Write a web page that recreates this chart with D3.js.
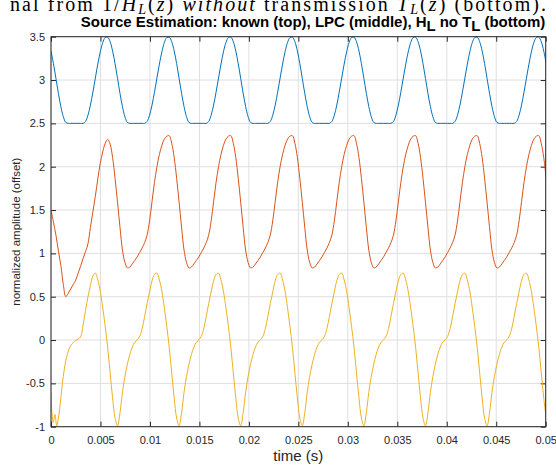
<!DOCTYPE html>
<html><head><meta charset="utf-8">
<script src="https://cdn.jsdelivr.net/npm/d3@7"></script>
<style>
body{margin:0;background:#fff}
svg{display:block}
.sans{font-family:"Liberation Sans",Arial,Helvetica,sans-serif}
</style>
</head><body>
<svg id="c" width="556" height="465"></svg>
<script>
// ---------- data ----------
const sampleStep = 0.000249; // s
const xTicks = [0,0.005,0.01,0.015,0.02,0.025,0.03,0.035,0.04,0.045,0.05];
const xTickLabels = ["0","0.005","0.01","0.015","0.02","0.025","0.03","0.035","0.04","0.045","0.05"];
const yTicks = [-1,-0.5,0,0.5,1,1.5,2,2.5,3,3.5];
const yTickLabels = ["-1","-0.5","0","0.5","1","1.5","2","2.5","3","3.5"];

// known source (top), offset +3
const knownSource = [
3.336,3.189,3.019,2.847,2.694,2.577,2.511,2.5,2.5,2.5,2.5,2.5,2.5,2.5,2.522,2.594,2.711,2.860,3.023,3.184,3.325,3.432,3.490,3.495,3.442,
3.336,3.189,3.019,2.847,2.694,2.577,2.511,2.5,2.5,2.5,2.5,2.5,2.5,2.5,2.522,2.594,2.711,2.860,3.023,3.184,3.325,3.432,3.490,3.495,3.442,
3.336,3.189,3.019,2.847,2.694,2.577,2.511,2.5,2.5,2.5,2.5,2.5,2.5,2.5,2.522,2.594,2.711,2.860,3.023,3.184,3.325,3.432,3.490,3.495,3.442,
3.336,3.189,3.019,2.847,2.694,2.577,2.511,2.5,2.5,2.5,2.5,2.5,2.5,2.5,2.522,2.594,2.711,2.860,3.023,3.184,3.325,3.432,3.490,3.495,3.442,
3.336,3.189,3.019,2.847,2.694,2.577,2.511,2.5,2.5,2.5,2.5,2.5,2.5,2.5,2.522,2.594,2.711,2.860,3.023,3.184,3.325,3.432,3.490,3.495,3.442,
3.336,3.189,3.019,2.847,2.694,2.577,2.511,2.5,2.5,2.5,2.5,2.5,2.5,2.5,2.522,2.594,2.711,2.860,3.023,3.184,3.325,3.432,3.490,3.495,3.442,
3.336,3.189,3.019,2.847,2.694,2.577,2.511,2.5,2.5,2.5,2.5,2.5,2.5,2.5,2.522,2.594,2.711,2.860,3.023,3.184,3.325,3.432,3.490,3.495,3.442,
3.336,3.189,3.019,2.847,2.694,2.577,2.511,2.5,2.5,2.5,2.5,2.5,2.5,2.5,2.522,2.594,2.711,2.860,3.023,3.184,3.325,3.432,3.490,3.495,3.442,
3.336,3.189];

// LPC estimate (middle), offset +1.5
const lpcSource = [
1.50,1.36,1.21,1.03,0.86,0.64,0.50,0.54,0.59,0.64,0.69,0.77,0.85,0.94,1.02,1.11,1.30,1.48,1.66,1.86,2.04,2.17,2.27,2.315,2.26,
2.107,1.866,1.59,1.302,1.038,0.896,0.832,0.842,0.878,0.918,0.96,1.01,1.062,1.124,1.21,1.374,1.596,1.818,2.0,2.142,2.246,2.318,2.352,2.358,2.27,
2.107,1.866,1.59,1.302,1.038,0.896,0.832,0.842,0.878,0.918,0.96,1.01,1.062,1.124,1.21,1.374,1.596,1.818,2.0,2.142,2.246,2.318,2.352,2.358,2.27,
2.107,1.866,1.59,1.302,1.038,0.896,0.832,0.842,0.878,0.918,0.96,1.01,1.062,1.124,1.21,1.374,1.596,1.818,2.0,2.142,2.246,2.318,2.352,2.358,2.27,
2.107,1.866,1.59,1.302,1.038,0.896,0.832,0.842,0.878,0.918,0.96,1.01,1.062,1.124,1.21,1.374,1.596,1.818,2.0,2.142,2.246,2.318,2.352,2.358,2.27,
2.107,1.866,1.59,1.302,1.038,0.896,0.832,0.842,0.878,0.918,0.96,1.01,1.062,1.124,1.21,1.374,1.596,1.818,2.0,2.142,2.246,2.318,2.352,2.358,2.27,
2.107,1.866,1.59,1.302,1.038,0.896,0.832,0.842,0.878,0.918,0.96,1.01,1.062,1.124,1.21,1.374,1.596,1.818,2.0,2.142,2.246,2.318,2.352,2.358,2.27,
2.107,1.866,1.59,1.302,1.038,0.896,0.832,0.842,0.878,0.918,0.96,1.01,1.062,1.124,1.21,1.374,1.596,1.818,2.0,2.142,2.246,2.318,2.352,2.358,2.27,
2.107,1.866];

// H_L without T_L (bottom): onset points, then samples from index 9 on
const hlOnsetTime = [0,0.00010,0.00022,0.00040,0.00058,0.00075,0.00092,0.00124,0.00159,0.00200];
const hlOnsetValue = [-0.60,-0.85,-0.95,-0.86,-0.99,-0.90,-0.75,-0.42,-0.19,-0.06];
const hlFirstIndex = 9;
const hlSource = [
-0.03,-0.005,0.01,0.035,0.17,0.34,0.50,0.63,0.74,0.772,0.693,0.562,0.373,0.156,-0.084,-0.379,
-0.666,-0.90,-0.99,-0.84,-0.603,-0.422,-0.279,-0.166,-0.081,-0.026,0.003,0.042,0.132,0.271,0.419,0.556,0.683,0.756,0.772,0.693,0.562,0.373,0.156,-0.084,-0.379,
-0.666,-0.90,-0.99,-0.84,-0.603,-0.422,-0.279,-0.166,-0.081,-0.026,0.003,0.042,0.132,0.271,0.419,0.556,0.683,0.756,0.772,0.693,0.562,0.373,0.156,-0.084,-0.379,
-0.666,-0.90,-0.99,-0.84,-0.603,-0.422,-0.279,-0.166,-0.081,-0.026,0.003,0.042,0.132,0.271,0.419,0.556,0.683,0.756,0.772,0.693,0.562,0.373,0.156,-0.084,-0.379,
-0.666,-0.90,-0.99,-0.84,-0.603,-0.422,-0.279,-0.166,-0.081,-0.026,0.003,0.042,0.132,0.271,0.419,0.556,0.683,0.756,0.772,0.693,0.562,0.373,0.156,-0.084,-0.379,
-0.666,-0.90,-0.99,-0.84,-0.603,-0.422,-0.279,-0.166,-0.081,-0.026,0.003,0.042,0.132,0.271,0.419,0.556,0.683,0.756,0.772,0.693,0.562,0.373,0.156,-0.084,-0.379,
-0.666,-0.90,-0.99,-0.84,-0.603,-0.422,-0.279,-0.166,-0.081,-0.026,0.003,0.042,0.132,0.271,0.419,0.556,0.683,0.756,0.772,0.693,0.562,0.373,0.156,-0.084,-0.379,
-0.666,-0.90,-0.99,-0.84,-0.603,-0.422,-0.279,-0.166,-0.081,-0.026,0.003,0.042,0.132,0.271,0.419,0.556,0.683,0.756,0.772,0.693,0.562,0.373,0.156,-0.084,-0.379,
-0.666,-0.90];

const seriesColors = ["#0072BD","#D95319","#EDB120"];

// ---------- chart ----------
const svg = d3.select("#c");
const L = 51, R = 545.7, T = 36.7, B = 426.7;
const x = d3.scaleLinear().domain([0,0.05]).range([L,R]);
const y = d3.scaleLinear().domain([-1,3.5]).range([B,T]);
const axisColor = "#262626";

// cut-off caption of the surrounding document
const cap = svg.append("text")
  .attr("x",10).attr("y",10.5)
  .attr("textLength",536).attr("lengthAdjust","spacing")
  .style("font-family","'Liberation Serif','DejaVu Serif',serif")
  .style("font-size","20px").attr("fill","#000");
cap.append("tspan").text("nal from 1/");
cap.append("tspan").style("font-style","italic").text("H");
cap.append("tspan").style("font-style","italic").style("font-size","14px").attr("dy",3).text("L");
cap.append("tspan").attr("dy",-3).text("(");
cap.append("tspan").style("font-style","italic").text("z");
cap.append("tspan").text(") ");
cap.append("tspan").style("font-style","italic").text("without");
cap.append("tspan").text(" transmission ");
cap.append("tspan").style("font-style","italic").text("T");
cap.append("tspan").style("font-style","italic").style("font-size","14px").attr("dy",3).text("L");
cap.append("tspan").attr("dy",-3).text("(");
cap.append("tspan").style("font-style","italic").text("z");
cap.append("tspan").text(") (bottom).");

// plot background
svg.append("rect").attr("x",L).attr("y",T).attr("width",R-L).attr("height",B-T).attr("fill","#fff");

// grid
const grid = svg.append("g").attr("stroke","#dfdfdf").attr("stroke-width",1);
grid.selectAll(".gx").data(xTicks).join("line")
  .attr("x1",d=>x(d)).attr("x2",d=>x(d)).attr("y1",T).attr("y2",B);
grid.selectAll(".gy").data(yTicks).join("line")
  .attr("y1",d=>y(d)).attr("y2",d=>y(d)).attr("x1",L).attr("x2",R);

// axes
function styleAxis(g){
  g.select(".domain").remove();
  g.selectAll(".tick line").attr("stroke",axisColor);
  g.selectAll(".tick text").attr("fill",axisColor).style("font-size","11px")
   .attr("class","sans");
}
const xLab = d3.scaleOrdinal().domain(xTicks).range(xTickLabels);
const yLab = d3.scaleOrdinal().domain(yTicks).range(yTickLabels);
svg.append("g").attr("transform",`translate(0,${B})`)
  .call(d3.axisBottom(x).tickValues(xTicks).tickFormat(d=>xLab(d)).tickSizeInner(-5).tickSizeOuter(0).tickPadding(9.5))
  .call(styleAxis);
svg.append("g").attr("transform",`translate(0,${T})`)
  .call(d3.axisTop(x).tickValues(xTicks).tickFormat("").tickSizeInner(-5).tickSizeOuter(0))
  .call(styleAxis);
svg.append("g").attr("transform",`translate(${L},0)`)
  .call(d3.axisLeft(y).tickValues(yTicks).tickFormat(d=>yLab(d)).tickSizeInner(-5).tickSizeOuter(0).tickPadding(6))
  .call(styleAxis);
svg.append("g").attr("transform",`translate(${R},0)`)
  .call(d3.axisRight(y).tickValues(yTicks).tickFormat("").tickSizeInner(-5).tickSizeOuter(0))
  .call(styleAxis);

// lines
svg.append("defs").append("clipPath").attr("id","clip")
  .append("rect").attr("x",L).attr("y",T-1).attr("width",R-L).attr("height",B-T+2);

const line = d3.line().x(d=>x(d[0])).y(d=>y(d[1])).curve(d3.curveCatmullRom.alpha(0.5));
const blueData = knownSource.map((v,i)=>[i*sampleStep,v]);
const redData = lpcSource.map((v,i)=>[i*sampleStep,v]);
const yellowData = hlOnsetTime.map((t,i)=>[t,hlOnsetValue[i]])
  .concat(hlSource.map((v,i)=>[(i+hlFirstIndex)*sampleStep,v]));

const plot = svg.append("g").attr("clip-path","url(#clip)").attr("fill","none").attr("stroke-width",1);
[blueData, redData, yellowData].forEach((d,k)=>{
  plot.append("path").datum(d).attr("d",line).attr("stroke",seriesColors[k]);
});

// box
svg.append("rect").attr("x",L).attr("y",T).attr("width",R-L).attr("height",B-T)
  .attr("fill","none").attr("stroke",axisColor).attr("stroke-width",1);

// labels
svg.append("text").attr("class","sans").attr("x",(L+R)/2).attr("y",461)
  .attr("text-anchor","middle").style("font-size","15px").attr("fill",axisColor).text("time (s)");
svg.append("text").attr("class","sans")
  .attr("transform",`translate(20,${(T+B)/2}) rotate(-90)`)
  .attr("text-anchor","middle").style("font-size","11.5px").attr("fill",axisColor)
  .text("normalized amplitude (offset)");

// title
const title = svg.append("text").attr("class","sans").attr("x",313).attr("y",27)
  .attr("text-anchor","middle").style("font-size","15px").style("font-weight","bold").attr("fill","#000");
title.append("tspan").text("Source Estimation: known (top), LPC (middle), H");
title.append("tspan").attr("dy",4).text("L");
title.append("tspan").attr("dy",-4).text(" no T");
title.append("tspan").attr("dy",4).text("L");
title.append("tspan").attr("dy",-4).text(" (bottom)");
</script>
</body></html>
